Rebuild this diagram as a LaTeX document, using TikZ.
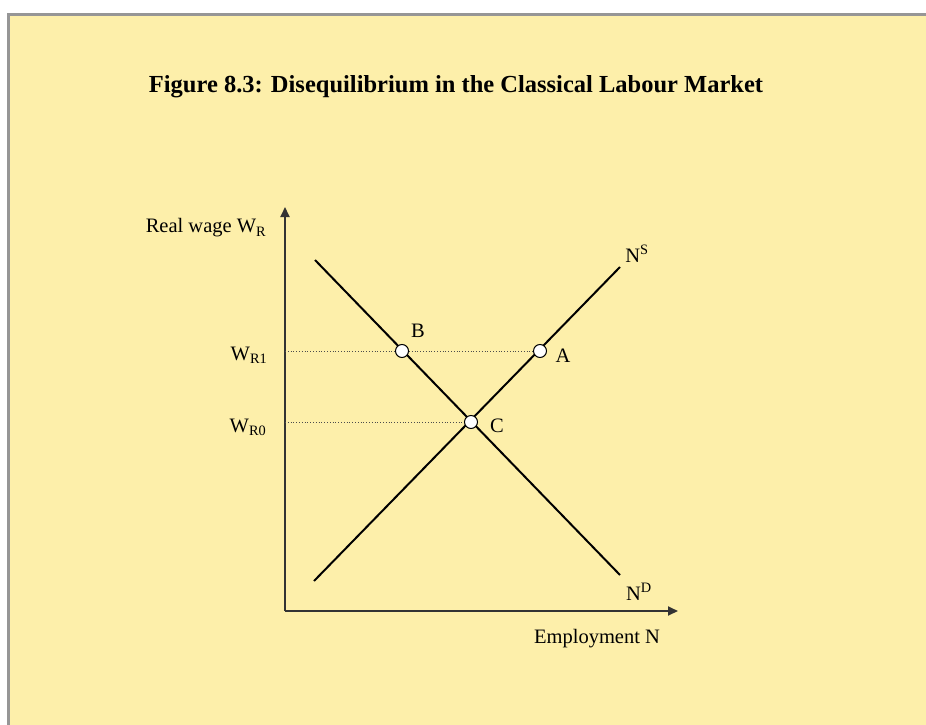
\documentclass[tikz,border=0pt]{standalone}
\usepackage{fontspec}
\setmainfont{Liberation Serif}
\usetikzlibrary{arrows.meta}
\definecolor{bgyellow}{RGB}{253,239,170}
\definecolor{framegray}{RGB}{150,150,150}
\begin{document}
\begin{tikzpicture}[x=1pt,y=-1pt,
  lbl/.style={inner sep=0pt,font=\fontsize{20.5}{24}\selectfont},
  curve/.style={line width=2pt,black},
  axis/.style={line width=1.8pt,black!80,-{Triangle[length=10pt,width=9pt]}},
  guide/.style={line width=0.8pt,black!70,dotted},
  pt/.style={circle,draw=black,fill=white,line width=1pt,minimum size=13pt,inner sep=0pt}]
\useasboundingbox (0,0) rectangle (926,725);
\fill[white] (0,0) rectangle (926,725);
\draw[framegray,line width=3pt,fill=bgyellow] (8.5,14.5) rectangle (940,740);
\node[lbl,font=\bfseries\fontsize{24.5}{28}\selectfont] (title) at (456,87) {Figure 8.3: Disequilibrium in the Classical Labour Market};
% axes
\coordinate (O) at (285,611);
\coordinate (ytip) at (285,207);
\coordinate (xtip) at (678,611);
\draw[axis] (O) -- (ytip);
\draw[axis] (O) -- (xtip);
% curves
\coordinate (d1) at (315,260);
\coordinate (d2) at (620,575);
\coordinate (s1) at (314,581);
\coordinate (s2) at (620,267);
\draw[curve] (d1) -- (d2);
\draw[curve] (s1) -- (s2);
% points
\node[pt] (B) at (402,351) {};
\node[pt] (A) at (540,351) {};
\node[pt] (C) at (471,422) {};
\coordinate (y1) at (285,351);
\coordinate (y0) at (285,422);
\draw[guide] (y1) -- (B);
\draw[guide] (B) -- (A);
\draw[guide] (y0) -- (C);
% labels
\node[lbl] (Blbl) at (418,331) {B};
\node[lbl] (Albl) at (563,356) {A};
\node[lbl] (Clbl) at (497,426) {C};
\node[lbl] (NS) at (637,254) {N\textsuperscript{S}};
\node[lbl] (ND) at (639,592) {N\textsuperscript{D}};
\node[lbl] (emp) at (597,639) {Employment N};
\node[lbl] (yl) at (206,228) {Real wage W\textsubscript{R}};
\node[lbl] (w1) at (249,355) {W\textsubscript{R1}};
\node[lbl] (w0) at (248,427) {W\textsubscript{R0}};
\end{tikzpicture}
\end{document}
